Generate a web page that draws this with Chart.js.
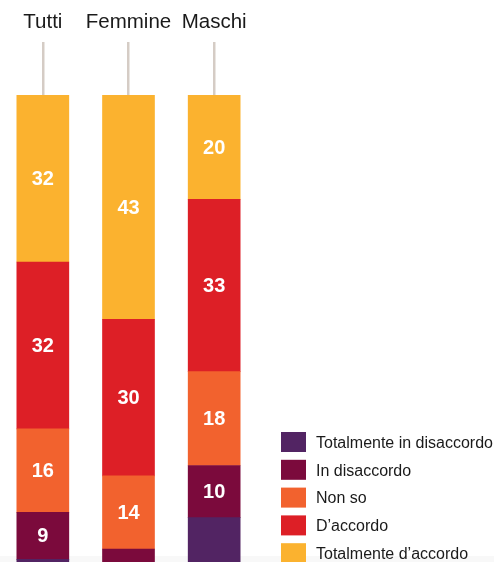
<!DOCTYPE html>
<html><head><meta charset="utf-8">
<script src="https://cdn.jsdelivr.net/npm/chart.js@4.4.1/dist/chart.umd.min.js"></script>
<style>html,body{margin:0;padding:0;background:#fff;overflow:hidden}#wrap{width:494px;height:562px;position:relative}canvas{display:block}</style>
</head><body><div id="wrap"><canvas id="c" width="494" height="562"></canvas></div>
<script>
const categories = ['Tutti', 'Femmine', 'Maschi'];
const seriesNames = ['Totalmente in disaccordo', 'In disaccordo', 'Non so', 'D’accordo', 'Totalmente d’accordo'];
const totDisaccordo = [11, 5, 19];
const inDisaccordo = [9, 8, 10];
const nonSo = [16, 14, 18];
const dAccordo = [32, 30, 33];
const totAccordo = [32, 43, 20];
const seriesColors = ['#522463', '#7b0a3c', '#f2622e', '#dd1f26', '#fbb22f'];
const seriesValues = [totDisaccordo, inDisaccordo, nonSo, dAccordo, totAccordo];

const bottomBand = {
  id: 'bottomBand',
  beforeDraw(chart) {
    const ctx = chart.ctx;
    ctx.save();
    ctx.fillStyle = '#f8f8f8';
    ctx.fillRect(0, 556, chart.width, chart.height - 556);
    ctx.restore();
  }
};

const valueLabels = {
  id: 'valueLabels',
  afterDatasetsDraw(chart) {
    const ctx = chart.ctx;
    ctx.save();
    ctx.font = 'bold 20px "Liberation Sans", Arial, sans-serif';
    ctx.fillStyle = '#ffffff';
    ctx.textAlign = 'center';
    ctx.textBaseline = 'middle';
    chart.data.datasets.forEach((ds, i) => {
      const meta = chart.getDatasetMeta(i);
      meta.data.forEach((bar, j) => {
        const p = bar.getProps(['x', 'y', 'base'], true);
        const cy = (p.y + p.base) / 2;
        if (cy > chart.chartArea.bottom - 12) return;
        ctx.fillText(String(ds.data[j]), p.x, cy + 1);
      });
    });
    ctx.restore();
  }
};

const legendRows = {
  id: 'legendRows',
  afterDraw(chart) {
    const ctx = chart.ctx;
    ctx.save();
    ctx.font = '16px "Liberation Sans", Arial, sans-serif';
    ctx.textAlign = 'left';
    ctx.textBaseline = 'alphabetic';
    chart.data.datasets.forEach((ds, i) => {
      const top = 432 + i * 27.8;
      ctx.fillStyle = ds.backgroundColor;
      ctx.fillRect(281, top, 25, 20);
      ctx.fillStyle = '#1a1a1a';
      ctx.fillText(ds.label, 316, top + 15.8);
    });
    ctx.restore();
  }
};

new Chart(document.getElementById('c'), {
  type: 'bar',
  data: {
    labels: categories,
    datasets: seriesNames.map((name, i) => ({
      label: name,
      data: seriesValues[i],
      backgroundColor: seriesColors[i],
      borderWidth: 0,
      barThickness: 52
    }))
  },
  options: {
    responsive: false,
    animation: false,
    layout: { padding: { top: 3.4, right: 237, left: 0, bottom: 0 } },
    plugins: { legend: { display: false }, tooltip: { enabled: false } },
    scales: {
      x: {
        stacked: true,
        position: 'top',
        grid: { offset: false, drawOnChartArea: false, drawTicks: true, tickLength: 53, color: '#d5ccc5', lineWidth: 2.5 },
        border: { display: false },
        ticks: { padding: 7, autoSkip: false, maxRotation: 0, minRotation: 0, color: '#1a1a1a', font: { family: '"Liberation Sans", Arial, sans-serif', size: 20.5 } }
      },
      y: { stacked: true, display: false, min: 10.5, max: 100 }
    }
  },
  plugins: [bottomBand, valueLabels, legendRows]
});
</script>
</body></html>
